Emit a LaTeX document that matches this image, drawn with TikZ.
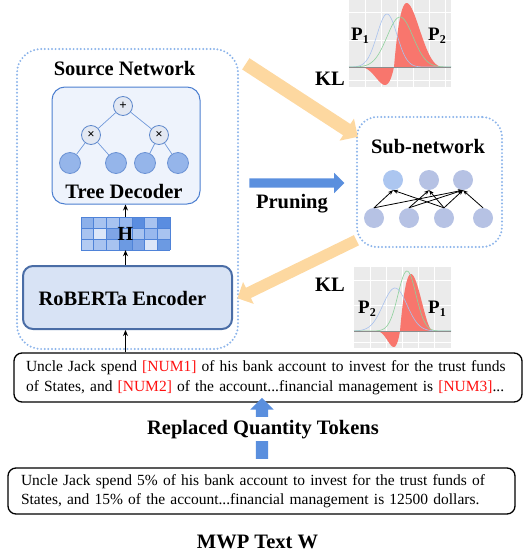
\documentclass[tikz,border=0pt]{standalone}
\usepackage{fontspec}
\setmainfont{Liberation Serif}
\usetikzlibrary{arrows.meta,shapes.arrows,calc}
\definecolor{dotblue}{HTML}{8CB4EA}
\definecolor{tdfill}{HTML}{EEF3FC}
\definecolor{tdborder}{HTML}{4C7FD0}
\definecolor{opfill}{HTML}{E3E8F2}
\definecolor{opborder}{HTML}{5E88CC}
\definecolor{leaffill}{HTML}{95B5EA}
\definecolor{leafborder}{HTML}{6B92D4}
\definecolor{tedgec}{HTML}{7199DA}
\definecolor{rbfill}{HTML}{D8E3F5}
\definecolor{rbborder}{HTML}{4A6DA6}
\definecolor{bluearr}{HTML}{5A8FDE}
\definecolor{orangearr}{HTML}{FDD8A0}
\definecolor{subnode}{HTML}{B6C2E4}
\definecolor{subnodeA}{HTML}{ACC6F0}
\definecolor{kred}{HTML}{F8766D}
\definecolor{kblue}{HTML}{A9C2EE}
\definecolor{kgreen}{HTML}{8ED19C}
\definecolor{kbg}{HTML}{EBEBEB}
\definecolor{kaxis}{HTML}{8C8C8C}
\definecolor{numred}{HTML}{FF1010}
\definecolor{gridline}{HTML}{4F83D8}
\definecolor{cA}{HTML}{8CB0EA}
\definecolor{cB}{HTML}{A8C3F0}
\definecolor{cC}{HTML}{98B8EE}
\definecolor{cD}{HTML}{5A8DE0}
\definecolor{cE}{HTML}{DCE6F8}
\definecolor{cF}{HTML}{7FA5E6}
\definecolor{cG}{HTML}{B3CBF2}
\definecolor{cH}{HTML}{6C9AE2}
\begin{document}
\begin{tikzpicture}[x=1pt,y=-1pt,
  lbl/.style={font=\fontsize{20.5}{24}\selectfont\bfseries, inner sep=0pt, anchor=base},
  plbl/.style={font=\fontsize{19}{22}\selectfont\bfseries, inner sep=0pt},
  body/.style={font=\fontsize{15.5}{19.5}\selectfont, align=left, draw=black, line width=1.3pt, rounded corners=8pt, inner ysep=0pt},
  dotbox/.style={draw=dotblue, line width=2.2pt, dash pattern=on 0pt off 3.6pt, line cap=round, rounded corners=24pt, inner sep=0pt},
  opnode/.style={circle, draw=opborder, fill=opfill, line width=0.8pt, minimum size=19pt, inner sep=0pt, font=\fontsize{13}{13}\selectfont\bfseries},
  leaf/.style={circle, draw=leafborder, fill=leaffill, line width=0.8pt, minimum size=21pt, inner sep=0pt},
  tedge/.style={draw=tedgec, line width=0.7pt},
  snode/.style={circle, fill=subnode, minimum size=20pt, inner sep=0pt},
  sedge/.style={draw=black, line width=0.8pt, -{Stealth[length=5pt,width=4pt]}},
  uparr/.style={draw=black, line width=1.3pt, -{Stealth[length=6pt,width=5pt]}},
  fatarrow/.style 2 args={single arrow, inner xsep=0pt, inner ysep=#1, single arrow head extend=#2, minimum width=0pt, outer sep=0pt},
  cell/.style={draw=gridline, line width=0.6pt}
]
\useasboundingbox (0,0) rectangle (532,557);

% ---------- Source network ----------
\node[dotbox, minimum width=221pt, minimum height=300pt] (src) at (127.5,199) {};
\node[lbl] (srct) at (124.5,75) {Source Network};

\node[draw=tdborder, fill=tdfill, line width=1pt, rounded corners=13pt, minimum width=148pt, minimum height=117pt, inner sep=0pt] (tree) at (126,145.5) {};
\node[opnode] (plus) at (123,106) {+};
\node[opnode] (m1) at (91,135) {×};
\node[opnode] (m2) at (159,135) {×};
\node[leaf] (l1) at (70,163) {};
\node[leaf] (l2) at (116,163) {};
\node[leaf] (l3) at (145,163) {};
\node[leaf] (l4) at (178,163) {};
\draw[tedge] (plus) -- (m1);
\draw[tedge] (plus) -- (m2);
\draw[tedge] (m1) -- (l1);
\draw[tedge] (m1) -- (l2);
\draw[tedge] (m2) -- (l3);
\draw[tedge] (m2) -- (l4);
\node[lbl] (treet) at (124,198) {Tree Decoder};

% H grid
\node[minimum width=89pt, minimum height=33pt, inner sep=0pt] (grid) at (125.5,233.5) {};
\foreach \r/\cols in {0/{cA,cB,cB,cC,cD,cB,cD},1/{cB,cE,cF,cB,cB,cC,cB},2/{cG,cB,cB,cH,cF,cE,cH}}{
  \foreach \c [count=\i from 0] in \cols {
    \fill[\c] ({81+\i*12.714},{217+\r*11}) rectangle ++(12.714,11);
  }
}
\foreach \i in {0,...,7} \draw[cell] ({81+\i*12.714},217) -- ({81+\i*12.714},250);
\foreach \r in {0,...,3} \draw[cell] (81,{217+\r*11}) -- (170,{217+\r*11});
\node[font=\fontsize{20}{20}\selectfont\bfseries, inner sep=0pt] (hlab) at (grid) {H};

\node[draw=rbborder, fill=rbfill, line width=2pt, rounded corners=10pt, minimum width=209pt, minimum height=63pt, inner sep=0pt] (rob) at (127.5,297.5) {};
\node[lbl] (robt) at (122.5,305) {RoBERTa Encoder};

\draw[uparr] (grid.north) -- (grid.north |- tree.south);
\draw[uparr] (rob.north -| grid.north) -- (grid.south);

% ---------- text boxes ----------
\node[body, text width=484pt, inner xsep=12pt, minimum height=49pt] (box1) at (268,377.5)
 {Uncle Jack spend \textcolor{numred}{[NUM1]} of his bank account to invest for the trust funds\\
  of States, and \textcolor{numred}{[NUM2]} of the account...financial management is \textcolor{numred}{[NUM3]}...};
\node[body, text width=481pt, inner xsep=13pt, minimum height=46pt] (box2) at (261.5,491)
 {Uncle Jack spend 5\% of his bank account to invest for the trust funds of\\
  States, and 15\% of the account...financial management is 12500 dollars.};
\draw[uparr] (box1.north -| grid.north) -- (rob.south -| grid.north);

\coordinate (ua) at (262,462);
\coordinate (ub) at (262,401);
\path let \p1=($(ub)-(ua)$), \n1={atan2(\y1,\x1)}, \n2={veclen(\x1,\y1)} in
  node[fatarrow={6pt}{5.5pt}, fill=bluearr, rotate=\n1, minimum height=\n2] (upfat) at ($(ua)!0.5!(ub)$) {};
\node[lbl, fill=white, inner ysep=3pt, inner xsep=2pt] (rqt) at (263,434) {Replaced Quantity Tokens};
\node[lbl] (mwp) at (257.5,548) {MWP Text W};

% ---------- Sub-network ----------
\node[dotbox, rounded corners=20pt, minimum width=145pt, minimum height=130pt] (sub) at (429.5,182) {};
\node[lbl] (subt) at (428,153) {Sub-network};
\node[snode, fill=subnodeA] (t1) at (393,180) {};
\node[snode] (t2) at (429,180) {};
\node[snode] (t3) at (463,180) {};
\node[snode] (b1) at (374,218) {};
\node[snode] (b2) at (409,218) {};
\node[snode] (b3) at (444,218) {};
\node[snode] (b4) at (483,218) {};
\draw[sedge] (b1.north) -- (t1.south);
\draw[sedge] (b1.north) -- (t3.south);
\draw[sedge] (b2.north) -- (t2.south);
\draw[sedge] (b2.north) -- (t3.south);
\draw[sedge] (b3.north) -- (t1.south);
\draw[sedge] (b3.north) -- (t2.south);
\draw[sedge] (b3.north) -- (t3.south);
\draw[sedge] (b4.north) -- (t3.south);

% ---------- Pruning arrow ----------
\coordinate (pa) at (247,183);
\coordinate (pb) at (342,183);
\path let \p1=($(pb)-(pa)$), \n1={atan2(\y1,\x1)}, \n2={veclen(\x1,\y1)} in
  node[fatarrow={4.5pt}{5.5pt}, fill=bluearr, rotate=\n1, minimum height=\n2] (prune) at ($(pa)!0.5!(pb)$) {};
\node[lbl] (prunet) at (292,208) {Pruning};

% ---------- KL arrows ----------
\coordinate (o1a) at (243,62);
\coordinate (o1b) at (355,135);
\path let \p1=($(o1b)-(o1a)$), \n1={atan2(\y1,\x1)}, \n2={veclen(\x1,\y1)} in
  node[fatarrow={6.5pt}{6.5pt}, fill=orangearr, rotate=\n1, minimum height=\n2] (kl1) at ($(o1a)!0.5!(o1b)$) {};
\coordinate (o2a) at (359,239);
\coordinate (o2b) at (240,297);
\path let \p1=($(o2b)-(o2a)$), \n1={atan2(\y1,\x1)}, \n2={veclen(\x1,\y1)} in
  node[fatarrow={5.5pt}{6.5pt}, fill=orangearr, rotate=\n1, minimum height=\n2] (kl2) at ($(o2a)!0.5!(o2b)$) {};

% ---------- KL plot 1 ----------
\fill[kbg] (349,0) rectangle (451,87);
\foreach \gx in {365,381,397,413,429,445} \draw[white, line width=0.4pt] (\gx,0) -- (\gx,87);
\foreach \gy in {12,40,80} \draw[white, line width=0.4pt] (349,\gy) -- (451,\gy);
\fill[kred] (358,67)
  -- plot[domain=358:394, samples=40] (\x, {67+18*((\x-358)/36)*((\x-358)/36)*((\x-358)/36)*(1-(\x-358)/36)/0.10547})
  -- plot[domain=394:445, samples=50] (\x, {67-64*((\x-394)/51)*(1-(\x-394)/51)*(1-(\x-394)/51)*(1-(\x-394)/51)/0.10547})
  -- cycle;
\draw[kblue, line width=0.6pt] plot[domain=349:451, samples=80] (\x, {67-53*exp(-((\x-387)*(\x-387))/200)});
\draw[kgreen, line width=0.6pt] plot[domain=349:451, samples=80] (\x, {67-50*exp(-((\x-400)*(\x-400))/338)});
\draw[kaxis, line width=1pt] (349,67) -- (451,67);
\node[plbl] (p1a) at (360,36) {P\raisebox{-0.35ex}{\fontsize{12}{12}\selectfont 1}};
\node[plbl] (p2a) at (437,36) {P\raisebox{-0.35ex}{\fontsize{12}{12}\selectfont 2}};
\node[lbl] (kla) at (330,85) {KL};

% ---------- KL plot 2 ----------
\fill[kbg] (354,267) rectangle (451,348);
\foreach \gx in {370,386,402,418,434} \draw[white, line width=0.4pt] (\gx,267) -- (\gx,348);
\foreach \gy in {280,305,342} \draw[white, line width=0.4pt] (354,\gy) -- (451,\gy);
\fill[kred] (375,331)
  -- plot[domain=375:400, samples=40] (\x, {331+16*((\x-375)/25)*((\x-375)/25)*((\x-375)/25)*(1-(\x-375)/25)/0.10547})
  -- plot[domain=400:433, samples=50] (\x, {331-57*((\x-400)/33)*(1-(\x-400)/33)*(1-(\x-400)/33)/0.1481})
  -- cycle;
\draw[kblue, line width=0.6pt] plot[domain=354:451, samples=80] (\x, {331-43*exp(-((\x-395)*(\x-395))/288)});
\draw[kgreen, line width=0.6pt] plot[domain=354:451, samples=80] (\x, {331-60*exp(-((\x-407)*(\x-407))/162)});
\draw[kaxis, line width=1pt] (354,331) -- (451,331);
\node[plbl] (p2b) at (367,309) {P\raisebox{-0.35ex}{\fontsize{12}{12}\selectfont 2}};
\node[plbl] (p1b) at (437,309) {P\raisebox{-0.35ex}{\fontsize{12}{12}\selectfont 1}};
\node[lbl] (klb) at (330,291) {KL};
\end{tikzpicture}
\end{document}
